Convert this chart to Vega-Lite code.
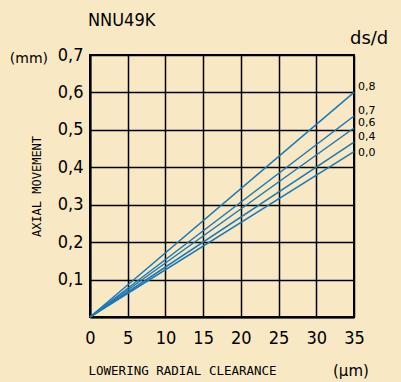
{
  "$schema": "https://vega.github.io/schema/vega-lite/v6.json",
  "width": 264,
  "height": 262,
  "autosize": {"type": "none"},
  "padding": {"left": 90, "top": 55, "right": 47, "bottom": 65},
  "background": "#F9E8C4",
  "title": {
    "text": "NNU49K",
    "anchor": "start",
    "frame": "group",
    "offset": 0,
    "font": "DejaVu Sans Condensed, DejaVu Sans",
    "fontSize": 18,
    "fontWeight": "normal",
    "color": "#000000",
    "dx": -2
  },
  "data": {
    "values": [
      {"ds": "0,8", "x": 0, "y": 0},
      {"ds": "0,8", "x": 35, "y": 0.6},
      {"ds": "0,7", "x": 0, "y": 0},
      {"ds": "0,7", "x": 35, "y": 0.537},
      {"ds": "0,6", "x": 0, "y": 0},
      {"ds": "0,6", "x": 35, "y": 0.505},
      {"ds": "0,4", "x": 0, "y": 0},
      {"ds": "0,4", "x": 35, "y": 0.467},
      {"ds": "0,0", "x": 0, "y": 0},
      {"ds": "0,0", "x": 35, "y": 0.442}
    ]
  },
  "encoding": {
    "x": {
      "field": "x",
      "type": "quantitative",
      "scale": {"domain": [0, 35], "nice": false},
      "axis": {
        "values": [0, 5, 10, 15, 20, 25, 30, 35],
        "title": "LOWERING RADIAL CLEARANCE",
        "titleAnchor": "start",
        "titleAlign": "left",
        "titleFont": "DejaVu Sans Mono",
        "titleFontSize": 12.5,
        "titleFontWeight": "normal",
        "titlePadding": 17,
        "titleX": -2,
        "labelFont": "DejaVu Sans Condensed, DejaVu Sans",
        "labelFontSize": 18,
        "labelPadding": 12,
        "ticks": false,
        "labelFlush": false
      }
    },
    "y": {
      "field": "y",
      "type": "quantitative",
      "scale": {"domain": [0, 0.7], "nice": false},
      "axis": {
        "values": [0, 0.1, 0.2, 0.3, 0.4, 0.5, 0.6, 0.7],
        "labelExpr": "datum.value == 0 ? '' : replace(format(datum.value, '.1f'), '.', ',')",
        "title": "AXIAL MOVEMENT",
        "titleFont": "DejaVu Sans Mono",
        "titleFontSize": 12,
        "titleFontWeight": "normal",
        "titlePadding": 14,
        "labelFont": "DejaVu Sans Condensed, DejaVu Sans",
        "labelFontSize": 18,
        "labelPadding": 7,
        "ticks": false,
        "labelFlush": false
      }
    }
  },
  "layer": [
    {
      "mark": {"type": "line", "color": "#1B78B5", "strokeWidth": 1.5},
      "encoding": {"detail": {"field": "ds"}}
    },
    {
      "transform": [{"filter": "datum.x == 35 && datum.ds != '0,0'"}],
      "mark": {"type": "text", "align": "left", "baseline": "middle", "dx": 4, "dy": -5, "font": "DejaVu Sans", "fontWeight": "normal", "fontSize": 11, "color": "#000000"},
      "encoding": {"text": {"field": "ds"}}
    },
    {
      "transform": [{"filter": "datum.x == 35 && datum.ds == '0,0'"}],
      "mark": {"type": "text", "align": "left", "baseline": "middle", "dx": 4, "dy": 1, "font": "DejaVu Sans", "fontWeight": "normal", "fontSize": 11, "color": "#000000"},
      "encoding": {"text": {"field": "ds"}}
    },
    {
      "transform": [{"filter": "datum.x == 35 && datum.ds == '0,8'"}],
      "mark": {"type": "text", "align": "right", "baseline": "alphabetic", "dx": -42, "dy": 8, "font": "DejaVu Sans", "fontWeight": "normal", "fontSize": 14, "color": "#000000", "text": "(mm)"},
      "encoding": {"x": {"datum": 0}, "y": {"datum": 0.7}}
    },
    {
      "transform": [{"filter": "datum.x == 35 && datum.ds == '0,8'"}],
      "mark": {"type": "text", "align": "left", "baseline": "alphabetic", "dx": -21, "dy": 59, "font": "DejaVu Sans", "fontWeight": "normal", "fontSize": 15, "color": "#000000", "text": "(µm)"},
      "encoding": {"x": {"datum": 35}, "y": {"datum": 0}}
    },
    {
      "transform": [{"filter": "datum.x == 35 && datum.ds == '0,8'"}],
      "mark": {"type": "text", "align": "left", "baseline": "alphabetic", "dx": -4, "dy": -11, "font": "DejaVu Sans", "fontWeight": "normal", "fontSize": 18, "color": "#000000", "text": "ds/d"},
      "encoding": {"x": {"datum": 35}, "y": {"datum": 0.7}}
    }
  ],
  "config": {
    "view": {"stroke": "#000000", "strokeWidth": 2},
    "axis": {
      "grid": true,
      "gridColor": "#000000",
      "gridOpacity": 1,
      "gridWidth": 1.5,
      "domainColor": "#000000",
      "domainWidth": 2,
      "labelColor": "#000000",
      "titleColor": "#000000"
    }
  }
}
